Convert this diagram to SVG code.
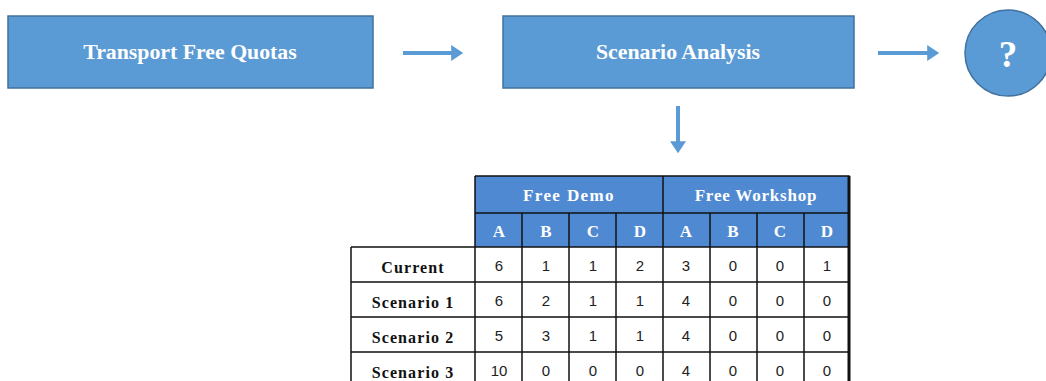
<svg xmlns="http://www.w3.org/2000/svg" width="1046" height="381" viewBox="0 0 1046 381">
<style>
.box{fill:#5B9BD5;stroke:#41719C;stroke-width:1.5}
.btxt{font-family:"Liberation Serif",serif;font-weight:bold;fill:#fff;font-size:21.8px;text-anchor:middle}
.conn{stroke:#5B9BD5;stroke-width:4;fill:none;marker-end:url(#ah)}
.hdr{fill:#4F89D2}
.htxt{font-family:"Liberation Serif",serif;font-weight:bold;fill:#fff;font-size:17px;text-anchor:middle}
.lbl{font-family:"Liberation Serif",serif;font-weight:bold;fill:#111;font-size:16px;text-anchor:middle;letter-spacing:1.1px}
.num{font-family:"Liberation Sans",sans-serif;fill:#222;font-size:15px;text-anchor:middle}
.grid{stroke:#111;stroke-width:1.5;fill:none}
</style>
<defs>
<marker id="ah" markerWidth="4" markerHeight="4" refX="2.2" refY="2" orient="auto" markerUnits="strokeWidth">
<path d="M0,0 L3,2 L0,4 Z" fill="#5B9BD5"/>
</marker>
</defs>
<rect width="1046" height="381" fill="#fff"/>
<g id="node-transport">
<rect class="box" x="8" y="16" width="365" height="72"/>
<text class="btxt" x="190" y="59">Transport Free Quotas</text>
</g>
<g id="node-scenario">
<rect class="box" x="503" y="16" width="351" height="72"/>
<text class="btxt" x="678" y="59">Scenario Analysis</text>
</g>
<g id="node-question">
<circle class="box" cx="1008" cy="53" r="43"/>
<text class="btxt" x="1008" y="67" style="font-size:37px">?</text>
</g>
<g id="connectors">
<line class="conn" x1="403" y1="53" x2="460" y2="53"/>
<line class="conn" x1="878" y1="53" x2="936" y2="53"/>
<line class="conn" x1="678" y1="106" x2="678" y2="150"/>
</g>
<g id="node-table">
<rect class="hdr" x="475" y="176" width="374" height="71"/>
<text class="htxt" x="569" y="201" style="letter-spacing:1.4px">Free Demo</text>
<text class="htxt" x="756" y="201" style="letter-spacing:0.8px">Free Workshop</text>
<text class="htxt" x="499" y="237">A</text>
<text class="htxt" x="546" y="237">B</text>
<text class="htxt" x="593" y="237">C</text>
<text class="htxt" x="640" y="237">D</text>
<text class="htxt" x="686" y="237">A</text>
<text class="htxt" x="733" y="237">B</text>
<text class="htxt" x="780" y="237">C</text>
<text class="htxt" x="827" y="237">D</text>
<path class="grid" d="M475,176 H849 V381 M475,176 V381 M663,176 V381 M475,213 H849 M522,213 V381 M569,213 V381 M616,213 V381 M710,213 V381 M757,213 V381 M804,213 V381 M351,247 H849 M351,247 V381 M351,282 H849 M351,317 H849 M351,352 H849"/>
<line x1="849" y1="176" x2="849" y2="381" stroke="#111" stroke-width="3"/>
<text class="lbl" x="413" y="273">Current</text>
<text class="lbl" x="413" y="308">Scenario 1</text>
<text class="lbl" x="413" y="343">Scenario 2</text>
<text class="lbl" x="413" y="378">Scenario 3</text>
<g class="num">
<text x="499" y="271">6</text><text x="546" y="271">1</text><text x="593" y="271">1</text><text x="640" y="271">2</text><text x="686" y="271">3</text><text x="733" y="271">0</text><text x="780" y="271">0</text><text x="827" y="271">1</text>
<text x="499" y="306">6</text><text x="546" y="306">2</text><text x="593" y="306">1</text><text x="640" y="306">1</text><text x="686" y="306">4</text><text x="733" y="306">0</text><text x="780" y="306">0</text><text x="827" y="306">0</text>
<text x="499" y="341">5</text><text x="546" y="341">3</text><text x="593" y="341">1</text><text x="640" y="341">1</text><text x="686" y="341">4</text><text x="733" y="341">0</text><text x="780" y="341">0</text><text x="827" y="341">0</text>
<text x="499" y="376">10</text><text x="546" y="376">0</text><text x="593" y="376">0</text><text x="640" y="376">0</text><text x="686" y="376">4</text><text x="733" y="376">0</text><text x="780" y="376">0</text><text x="827" y="376">0</text>
</g>
</g>
</svg>
